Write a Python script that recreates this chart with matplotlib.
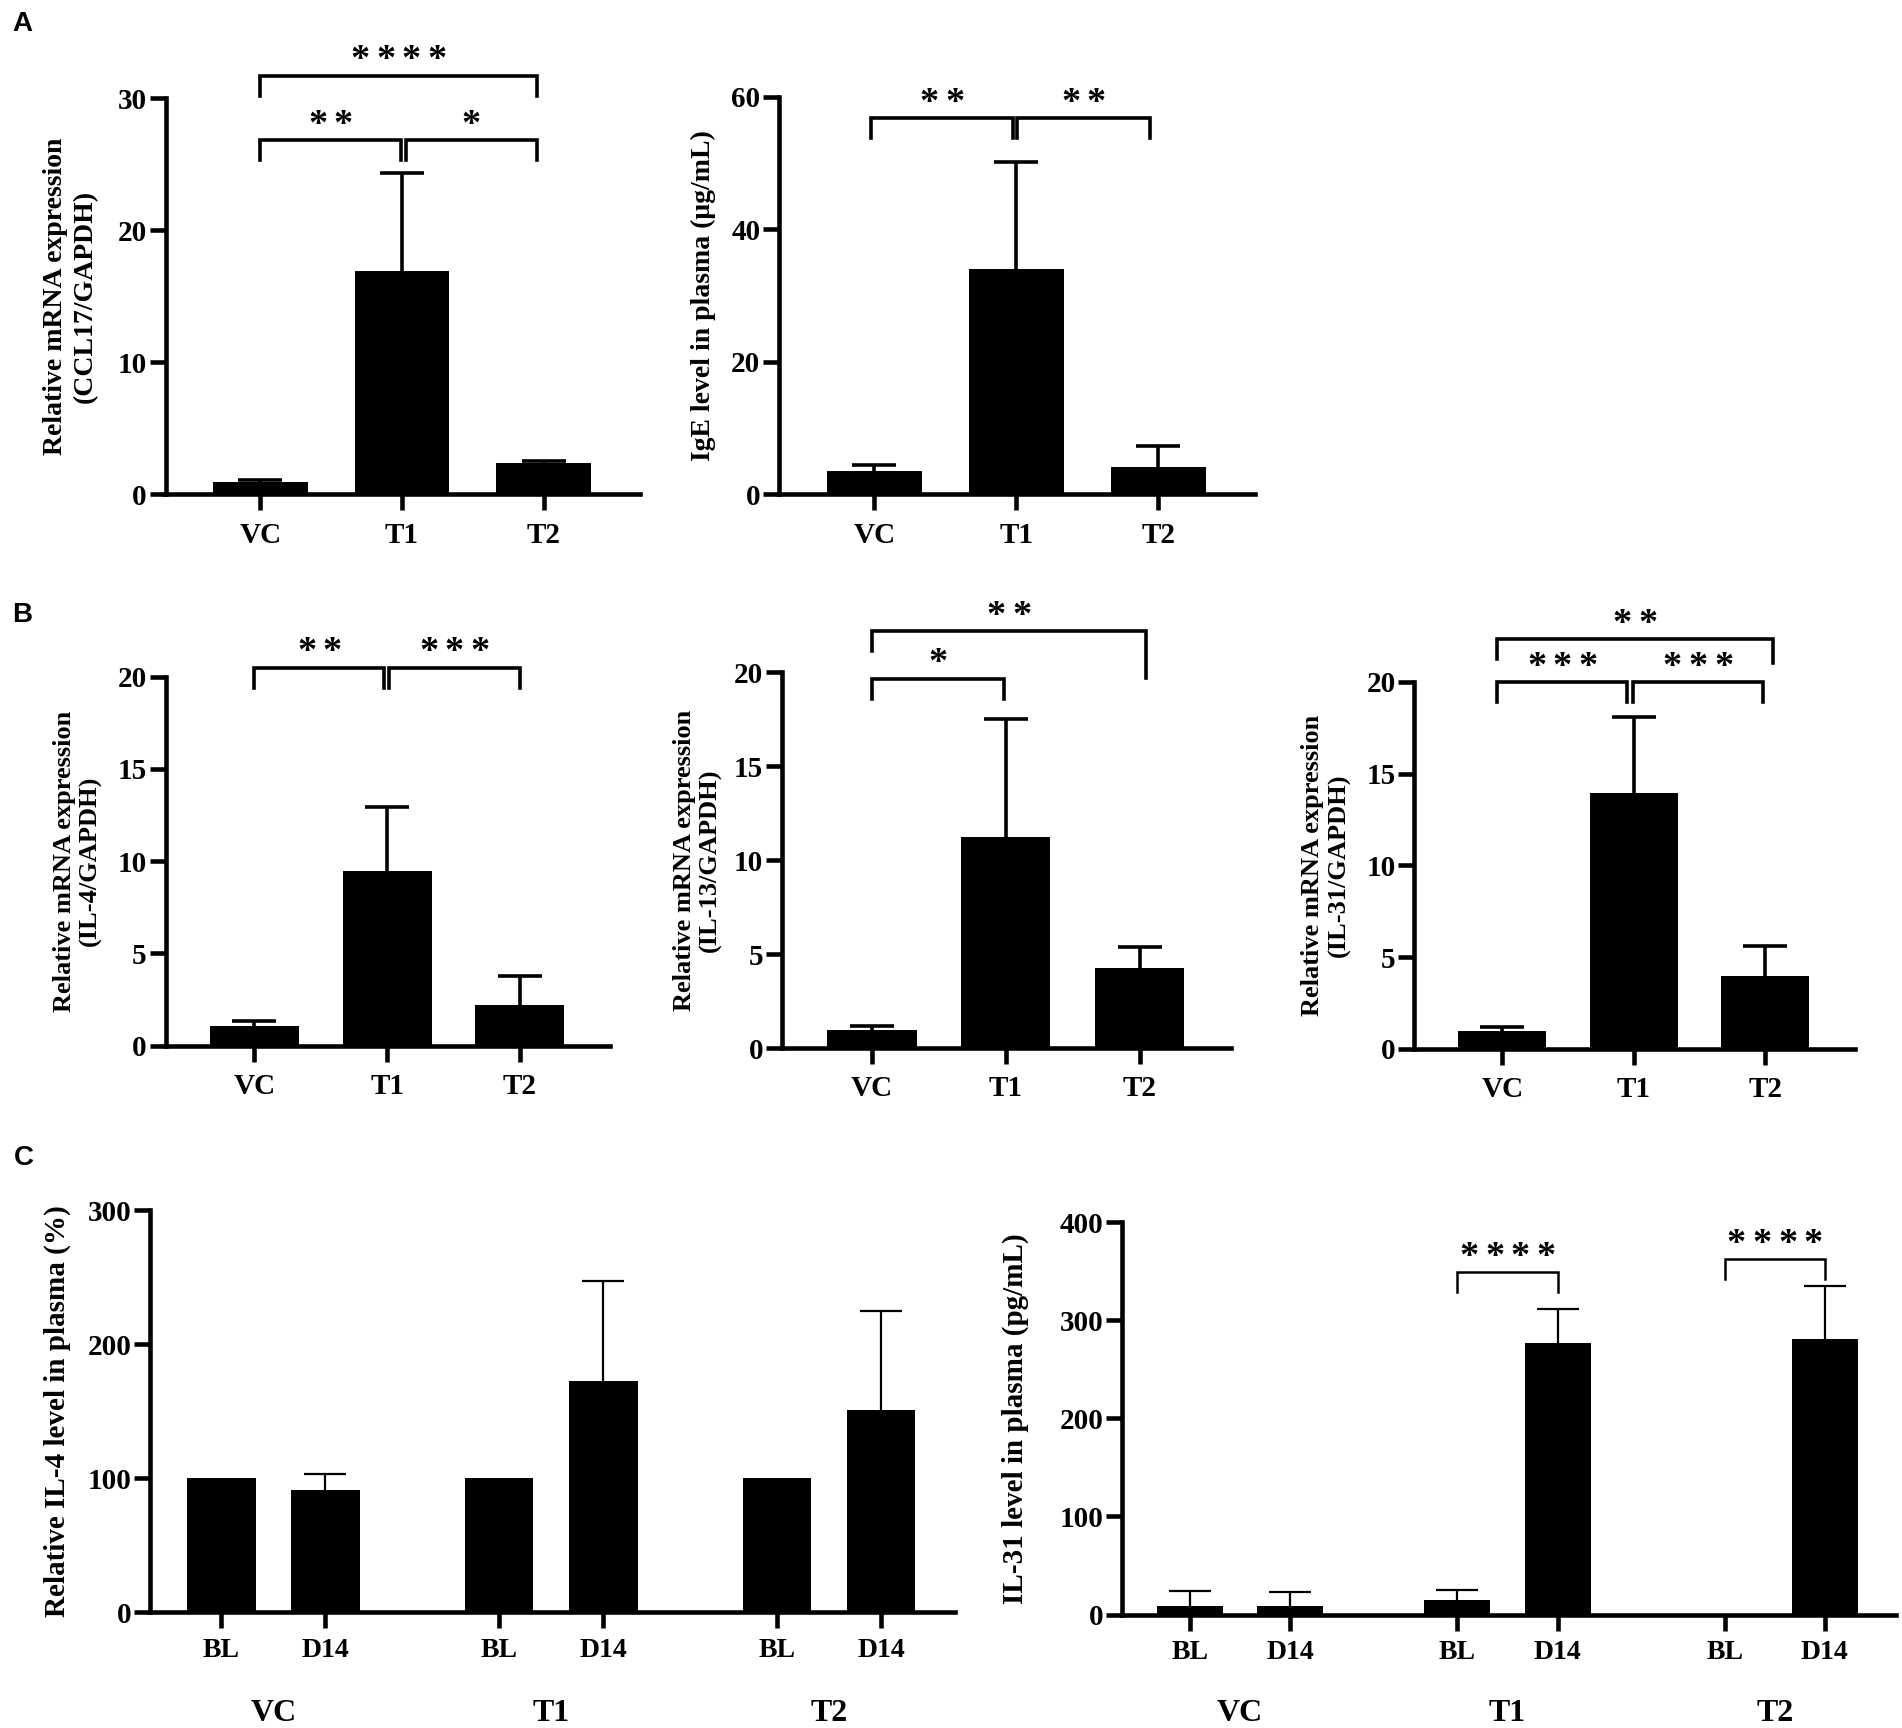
import numpy as np
import matplotlib
matplotlib.use("Agg")
import matplotlib.pyplot as plt

plt.rcParams['font.family'] = ['Liberation Serif', 'DejaVu Serif']
plt.rcParams['font.weight'] = 'bold'

W, H, DPI = 1902, 1728, 100

groups = ['VC', 'T1', 'T2']
timepoints = ['BL', 'D14']

# A: CCL17 mRNA and plasma IgE
ccl17_mean = [0.95, 16.9, 2.35]
ccl17_sd = [0.15, 7.4, 0.2]
ige_mean = [3.6, 34.0, 4.2]
ige_sd = [0.8, 16.2, 3.1]

# B: IL-4 / IL-13 / IL-31 mRNA
il4_mean = [1.07, 9.48, 2.2]
il4_sd = [0.28, 3.47, 1.58]
il13_mean = [0.97, 11.25, 4.28]
il13_sd = [0.19, 6.25, 1.1]
il31_mean = [0.98, 13.93, 3.98]
il31_sd = [0.22, 4.14, 1.65]

# C: plasma levels, baseline vs day 14
il4p_bl = [100, 100, 100]
il4p_bl_sd = [0, 0, 0]
il4p_d14 = [91.3, 172.8, 150.9]
il4p_d14_sd = [12.0, 74.2, 74.1]
il31p_bl = [8.6, 14.3, 0]
il31p_bl_sd = [15.1, 10.7, 0]
il31p_d14 = [8.6, 277.3, 281.4]
il31p_d14_sd = [13.9, 34.7, 54.0]

fig = plt.figure(figsize=(W / DPI, H / DPI), dpi=DPI)


def add_ax(x0, x1, ytop, ybot):
    return fig.add_axes([x0 / W, 1 - ybot / H, (x1 - x0) / W, (ybot - ytop) / H])


def style(ax, ymax, ystep, xlim, xpad=8):
    for s in ['top', 'right']:
        ax.spines[s].set_visible(False)
    for s in ['left', 'bottom']:
        ax.spines[s].set_linewidth(3.3)
    ax.set_ylim(0, ymax)
    ax.set_yticks(np.arange(0, ymax + 1e-9, ystep))
    ax.set_xlim(*xlim)
    ax.tick_params(axis='both', direction='out', length=11.5, width=3.3, labelsize=21)
    ax.tick_params(axis='y', pad=2)
    ax.tick_params(axis='x', pad=xpad)


def bars(ax, x, mean, sd, width, elw=2.6, cap=16):
    x, mean, sd = np.asarray(x), np.asarray(mean, float), np.asarray(sd, float)
    ax.bar(x, mean, width, color='black', linewidth=0, zorder=3)
    m = sd > 0
    # symmetric bars drawn behind the columns, so only the upper half shows
    ax.errorbar(x[m], mean[m], yerr=sd[m], fmt='none', ecolor='black',
                elinewidth=elw, capsize=cap, capthick=elw, zorder=2)


def bracket(ax, x1, x2, y, n, leg1=20, leg2=20, lw=2.6):
    tr = ax.transData
    ypx = tr.transform((0, y))[1]
    inv = tr.inverted()
    y1 = inv.transform((0, ypx - leg1))[1]
    y2 = inv.transform((0, ypx - leg2))[1]
    ax.plot([x1, x1, x2, x2], [y1, y, y, y2], color='black', lw=lw,
            solid_joinstyle='miter', clip_on=False)
    xm = (x1 + x2) / 2
    pitch = 18.5
    for k in range(n):
        ax.annotate('*', xy=(xm, y), xytext=((k - (n - 1) / 2) * pitch, 4.0),
                    textcoords='offset points', ha='center', va='baseline',
                    fontsize=27.5, fontweight='bold', annotation_clip=False)


def ylab(xpx, ax, text, size, ls=1.15):
    pos = ax.get_position()
    yc = pos.y0 + pos.height / 2
    fig.text(xpx / W, yc, text, rotation=90, ha='center', va='center',
             fontsize=size, fontweight='bold', linespacing=ls)


x3 = np.arange(len(groups))
lim3 = (-0.67, 2.68)
bw = 0.67

# ---- A ----
axA1 = add_ax(165.5, 640, 98.1, 494.5)
style(axA1, 30, 10, lim3)
bars(axA1, x3, ccl17_mean, ccl17_sd, bw)
axA1.set_xticks(x3, groups)
bracket(axA1, 0.0, 0.99, 26.8, 2)
bracket(axA1, 1.025, 1.95, 26.8, 1)
bracket(axA1, 0.0, 1.95, 31.7, 4)
ylab(70.5, axA1, 'Relative mRNA expression\n(CCL17/GAPDH)', 20, 1.25)

axA2 = add_ax(779, 1255, 97, 494.5)
style(axA2, 60, 20, lim3)
bars(axA2, x3, ige_mean, ige_sd, bw)
axA2.set_xticks(x3, groups)
bracket(axA2, -0.02, 0.976, 56.8, 2)
bracket(axA2, 1.004, 1.94, 56.8, 2)
ylab(703, axA2, 'IgE level in plasma (\u03bcg/mL)', 20)

# ---- B ----
axB1 = add_ax(165.5, 610, 676.5, 1045.5)
style(axB1, 20, 5, lim3)
bars(axB1, x3, il4_mean, il4_sd, bw)
axB1.set_xticks(x3, groups)
bracket(axB1, 0.0, 0.98, 20.47, 2)
bracket(axB1, 1.015, 2.0, 20.47, 3)
ylab(77.7, axB1, 'Relative mRNA expression\n(IL-4/GAPDH)', 19)

axB2 = add_ax(782, 1230.6, 672.4, 1048.2)
style(axB2, 20, 5, lim3)
bars(axB2, x3, il13_mean, il13_sd, bw)
axB2.set_xticks(x3, groups)
bracket(axB2, 0.0, 0.99, 19.65, 1)
bracket(axB2, 0.0, 2.05, 22.2, 2, leg1=20, leg2=47)
ylab(697.3, axB2, 'Relative mRNA expression\n(IL-13/GAPDH)', 19)

axB3 = add_ax(1414.4, 1854.6, 681.7, 1048.9)
style(axB3, 20, 5, lim3)
bars(axB3, x3, il31_mean, il31_sd, bw)
axB3.set_xticks(x3, groups)
bracket(axB3, -0.04, 0.95, 19.96, 3)
bracket(axB3, 0.99, 1.985, 19.96, 3)
bracket(axB3, -0.04, 2.06, 22.3, 2, leg1=20, leg2=24)
ylab(1326, axB3, 'Relative mRNA expression\n(IL-31/GAPDH)', 19)

# ---- C ----
gap = 2.67
xbl = np.arange(len(groups)) * gap
xd14 = xbl + 1
xC = np.sort(np.concatenate([xbl, xd14]))
limC = (-0.68, 7.05)
bwC = 0.66

axC1 = add_ax(150.4, 955, 1210.3, 1612.1)
style(axC1, 300, 100, limC, xpad=7)
bars(axC1, xbl, il4p_bl, il4p_bl_sd, bwC, elw=1.6, cap=15)
bars(axC1, xd14, il4p_d14, il4p_d14_sd, bwC, elw=1.6, cap=15)
axC1.set_xticks(xC, timepoints * len(groups))
axC1.tick_params(axis='x', labelsize=20)
for g, xb in zip(groups, xbl):
    axC1.text(xb + 0.5, -0.252, g, transform=axC1.get_xaxis_transform(),
              ha='center', va='center', fontsize=23, fontweight='bold')
ylab(57.6, axC1, 'Relative IL-4 level in plasma (%)', 21)

axC2 = add_ax(1122, 1896, 1222.3, 1614.5)
style(axC2, 400, 100, limC, xpad=7)
bars(axC2, xbl, il31p_bl, il31p_bl_sd, bwC, elw=1.6, cap=15)
bars(axC2, xd14, il31p_d14, il31p_d14_sd, bwC, elw=1.6, cap=15)
axC2.set_xticks(xC, timepoints * len(groups))
axC2.tick_params(axis='x', labelsize=20)
for g, xb in zip(groups, xbl):
    axC2.text(xb + 0.5, -0.252, g, transform=axC2.get_xaxis_transform(),
              ha='center', va='center', fontsize=23, fontweight='bold')
bracket(axC2, xbl[1], xd14[1], 348.9, 4, lw=1.8)
bracket(axC2, xbl[2], xd14[2], 362.4, 4, lw=1.8)
ylab(1015.7, axC2, 'IL-31 level in plasma (pg/mL)', 21)

# panel letters
for lab, (px, py) in {'A': (22.5, 24), 'B': (22.5, 614.5), 'C': (24, 1158)}.items():
    fig.text(px / W, 1 - py / H, lab, ha='center', va='center', fontsize=20,
             fontweight='bold', family=['Liberation Sans', 'DejaVu Sans'])

fig.savefig('out.png', dpi=DPI, facecolor='white')
